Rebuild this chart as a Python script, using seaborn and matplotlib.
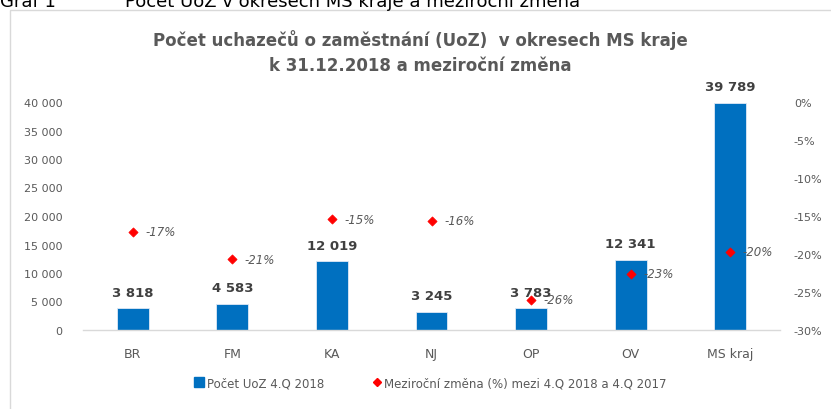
import matplotlib
matplotlib.use("Agg")
import matplotlib.pyplot as plt
import seaborn as sns
import pandas as pd
from matplotlib.patches import Rectangle
from matplotlib.lines import Line2D
from matplotlib.ticker import FuncFormatter

categories = ["BR", "FM", "KA", "NJ", "OP", "OV", "MS kraj"]
uoz_counts = [3818, 4583, 12019, 3245, 3783, 12341, 39789]
yoy_change_pct = [-17.1, -20.7, -15.4, -15.6, -26.0, -22.6, -19.7]
left_ticks = [0, 5000, 10000, 15000, 20000, 25000, 30000, 35000, 40000]
right_ticks = [0, -5, -10, -15, -20, -25, -30]

sns.set_theme(style="white")
FONT = ["DejaVu Sans"]
plt.rcParams["font.family"] = FONT

GRAY = "#595959"
BLUE = "#0070C0"

df = pd.DataFrame({"okres": categories, "uoz": uoz_counts, "zmena": yoy_change_pct})

fig = plt.figure(figsize=(8.31, 4.10), dpi=100)
fig.patch.set_facecolor("white")
ax = fig.add_axes([83 / 831, 1 - 331 / 410, (780 - 83) / 831, (331 - 103) / 410])

sns.barplot(data=df, x="okres", y="uoz", ax=ax, color=BLUE, width=0.32,
            edgecolor="#dfe9f5", linewidth=0.6, saturation=1)
ax.set_ylim(0, 40000)
ax.set_xlim(-0.5, 6.5)
ax.set_yticks(left_ticks)
ax.yaxis.set_major_formatter(FuncFormatter(lambda v, p: f"{int(v):,}".replace(",", " ")))
ax.set_xlabel("")
ax.set_ylabel("")
for s in ["top", "right", "left"]:
    ax.spines[s].set_visible(False)
ax.spines["bottom"].set_color("#D9D9D9")
ax.spines["bottom"].set_linewidth(1)
ax.tick_params(axis="y", length=0, pad=15, labelsize=8, labelcolor=GRAY)
ax.tick_params(axis="x", length=0, pad=12, labelsize=9, labelcolor=GRAY)

for i, v in enumerate(uoz_counts):
    ax.annotate(f"{v:,}".replace(",", " "), (i, v), xytext=(0, 7), textcoords="offset points",
                ha="center", va="bottom", fontsize=9.5, fontweight="bold", color="#404040")

ax2 = ax.twinx()
sns.scatterplot(x=list(range(len(categories))), y=yoy_change_pct, ax=ax2, marker="D", color="red",
                s=22, edgecolor="red", linewidth=0.5, zorder=5, legend=False)
ax2.set_ylim(-30, 0)
ax2.set_yticks(right_ticks)
ax2.yaxis.set_major_formatter(FuncFormatter(lambda v, p: f"{int(round(v))}%"))
for s in ["top", "right", "left", "bottom"]:
    ax2.spines[s].set_visible(False)
ax2.tick_params(axis="y", length=0, pad=10, labelsize=8, labelcolor=GRAY)
ax2.set_ylabel("")

for i, v in enumerate(yoy_change_pct):
    ax2.annotate(f"{int(round(v))}%", (i, v), xytext=(9, 0), textcoords="offset points",
                 ha="left", va="center", fontsize=8.5, fontstyle="italic", color=GRAY)

fig.text(420 / 831, 1 - 40 / 410, "Počet uchazečů o zaměstnání (UoZ)  v okresech MS kraje",
         ha="center", va="center", fontsize=12, fontweight="bold", color=GRAY)
fig.text(420 / 831, 1 - 66 / 410, "k 31.12.2018 a meziroční změna",
         ha="center", va="center", fontsize=12, fontweight="bold", color=GRAY)

fig.text(0 / 831, 1 - 7 / 410, "Graf 1", ha="left", va="baseline", fontsize=13, color="black")
fig.text(125 / 831, 1 - 7 / 410, "Počet UoZ v okresech MS kraje a meziroční změna",
         ha="left", va="baseline", fontsize=13, color="black")

fig.patches.append(Rectangle((10 / 831, -0.05), 1.0, 1 - 11 / 410 + 0.05, transform=fig.transFigure,
                             fill=False, edgecolor="#D9D9D9", linewidth=1))

handles = [Line2D([], [], marker="s", color=BLUE, linestyle="none", markersize=7),
           Line2D([], [], marker="D", color="red", linestyle="none", markersize=4.5)]
labels = ["Počet UoZ 4.Q 2018", "Meziroční změna (%) mezi 4.Q 2018 a 4.Q 2017"]
leg = fig.legend(handles, labels, loc="center", bbox_to_anchor=(430 / 831, 1 - 384 / 410), ncol=2,
                 frameon=False, fontsize=8.5, handletextpad=0.1, columnspacing=4.0, handlelength=1)
for t in leg.get_texts():
    t.set_color(GRAY)

fig.savefig("out.png", dpi=100, facecolor="white")
